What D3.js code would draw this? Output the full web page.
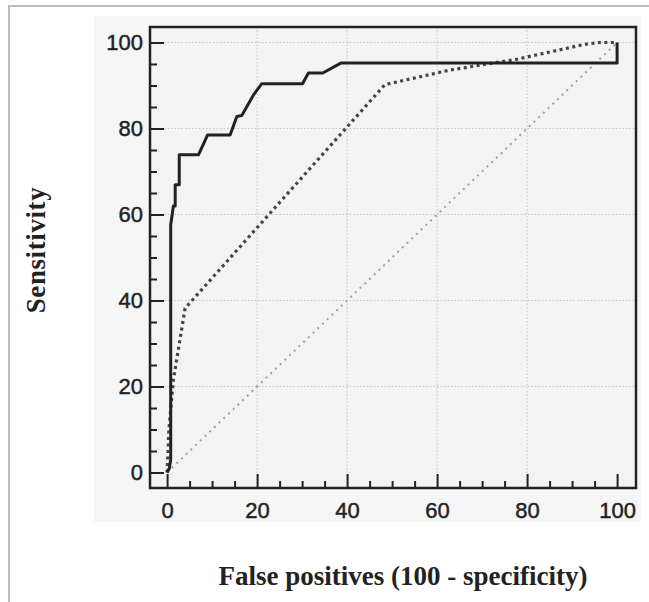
<!DOCTYPE html>
<html><head><meta charset="utf-8">
<script src="https://cdn.jsdelivr.net/npm/d3@7"></script>
<style>
html,body{margin:0;padding:0;background:#fff;}
svg{display:block;}
</style>
</head><body>
<script>
// ---- data ----
const majorTicks = [0, 20, 40, 60, 80, 100];
const minorTicks = [5,10,15,25,30,35,45,50,55,65,70,75,85,90,95];
const gridValues = [20, 40, 60, 80];
const xTitle = "False positives (100 - specificity)";
const yTitle = "Sensitivity";

// solid ROC curve (false positive %, sensitivity %)
const solidFP   = [0, 0.5, 0.8, 0.8, 1.4, 1.8, 1.8, 2.7, 2.7, 7.0, 9.0, 14.0, 15.5, 16.6, 19.2, 21.0, 30.1, 31.4, 34.6, 38.6, 100, 100];
const solidSens = [0, 1.0, 3.0, 57.6, 62.0, 62.0, 66.9, 66.9, 73.9, 73.9, 78.5, 78.5, 82.8, 83.0, 87.8, 90.4, 90.4, 92.9, 92.9, 95.2, 95.2, 100];

// dotted ROC curve
const dottedFP   = [0, 0.4, 1.4, 4.0, 48.4, 62.9, 77.7, 92.5, 96, 100];
const dottedSens = [0, 10, 21.6, 38.2, 90.2, 93.6, 96.1, 99.5, 100, 100];

// reference diagonal
const diagFP   = [0, 100];
const diagSens = [0, 100];

// ---- layout ----
const W = 649, H = 602;
const svg = d3.select("body").append("svg").attr("width", W).attr("height", H);

// outer frame
svg.append("path").attr("d", `M9,${H} L9,6 L${W},6`)
  .attr("fill", "none").attr("stroke", "#bdbdbd").attr("stroke-width", 2);

// light grey panel behind chart
svg.append("rect").attr("x", 94).attr("y", 16).attr("width", 547).attr("height", 506)
  .attr("fill", "#f6f6f6");

const x = d3.scaleLinear().domain([-3.8, 104.2]).range([150, 636]);
const y = d3.scaleLinear().domain([-3.6, 103.6]).range([488, 27]);

// plot background
svg.append("rect").attr("x", 150).attr("y", 27).attr("width", 486).attr("height", 461)
  .attr("fill", "#f3f3f3");

// grid
const grid = svg.append("g").attr("stroke", "#c4c4c4").attr("stroke-width", 1).attr("stroke-dasharray", "1.5,2");
grid.selectAll("line.gx").data(gridValues).join("line")
  .attr("x1", d => x(d)).attr("x2", d => x(d)).attr("y1", 27).attr("y2", 488);
grid.selectAll("line.gy").data(gridValues.concat([100])).join("line")
  .attr("y1", d => y(d)).attr("y2", d => y(d)).attr("x1", 150).attr("x2", 636);

// axes
function styleAxis(g) {
  g.select(".domain").remove();
  g.selectAll(".tick line").attr("stroke", "#222").attr("stroke-width", 2);
  g.selectAll(".tick text").attr("fill", "#222").attr("stroke", "#222").attr("stroke-width", 0.45)
    .attr("font-family", "'Liberation Sans', Arial, sans-serif").attr("font-size", 22);
}
svg.append("g").attr("transform", "translate(150,0)")
  .call(d3.axisLeft(y).tickValues(majorTicks).tickSize(-14).tickPadding(7).tickFormat(d3.format("d")))
  .call(styleAxis);
svg.append("g").attr("transform", "translate(150,0)")
  .call(d3.axisLeft(y).tickValues(minorTicks).tickSize(-7).tickFormat(""))
  .call(styleAxis);
svg.append("g").attr("transform", "translate(0,488)")
  .call(d3.axisBottom(x).tickValues(majorTicks).tickSize(-14).tickPadding(14).tickFormat(d3.format("d")))
  .call(styleAxis);
svg.append("g").attr("transform", "translate(0,488)")
  .call(d3.axisBottom(x).tickValues(minorTicks).tickSize(-7).tickFormat(""))
  .call(styleAxis);

// frame
svg.append("rect").attr("x", 150).attr("y", 27).attr("width", 486).attr("height", 461)
  .attr("fill", "none").attr("stroke", "#222").attr("stroke-width", 2.5);

const line = d3.line().x(d => x(d[0])).y(d => y(d[1]));

// diagonal
svg.append("path").datum(d3.zip(diagFP, diagSens)).attr("d", line)
  .attr("fill", "none").attr("stroke", "#a0a0a0").attr("stroke-width", 2)
  .attr("stroke-dasharray", "2,4.5");

// dotted curve
svg.append("path").datum(d3.zip(dottedFP, dottedSens)).attr("d", line)
  .attr("fill", "none").attr("stroke", "#444").attr("stroke-width", 3.2)
  .attr("stroke-dasharray", "3,3.5");

// solid curve
svg.append("path").datum(d3.zip(solidFP, solidSens)).attr("d", line)
  .attr("fill", "none").attr("stroke", "#222").attr("stroke-width", 3)
  .attr("stroke-linejoin", "round");

// titles
svg.append("text").attr("x", 403).attr("y", 585).attr("text-anchor", "middle")
  .attr("font-family", "'Liberation Serif', 'Times New Roman', serif").attr("font-weight", "bold")
  .attr("font-size", 27).attr("fill", "#222").text(xTitle);
svg.append("text").attr("transform", "translate(45,250) rotate(-90)").attr("text-anchor", "middle")
  .attr("font-family", "'Liberation Serif', 'Times New Roman', serif").attr("font-weight", "bold")
  .attr("font-size", 27).attr("letter-spacing", 0.6).attr("fill", "#222").text(yTitle);
</script>
</body></html>
